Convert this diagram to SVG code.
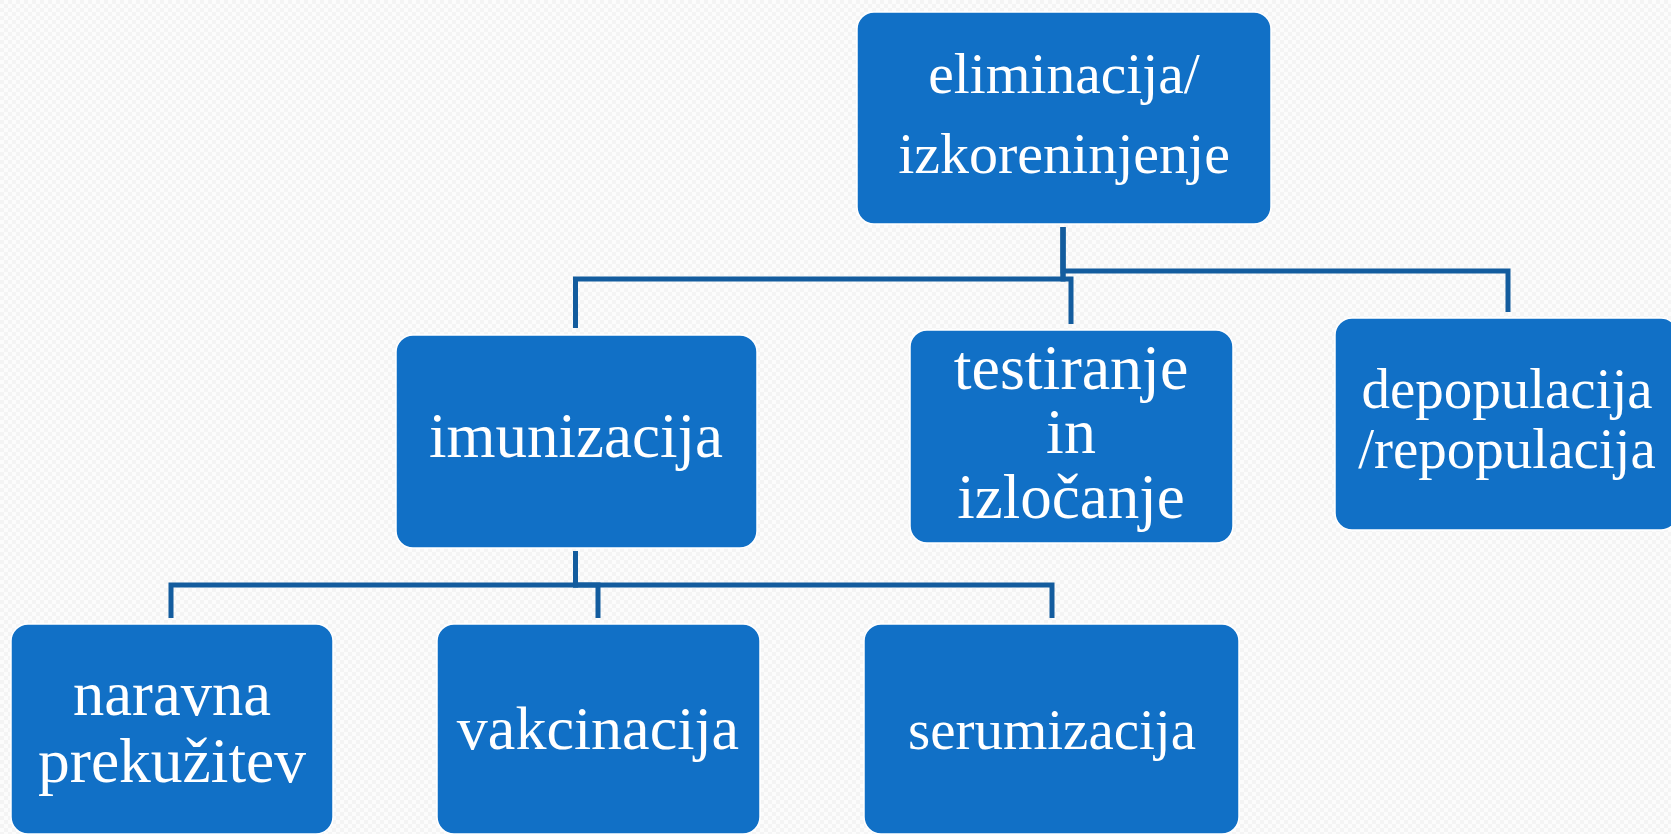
<svg xmlns="http://www.w3.org/2000/svg" width="1671" height="834" viewBox="0 0 1671 834">
<defs>
<pattern id="bg" width="8" height="8" patternUnits="userSpaceOnUse">
<rect width="8" height="8" fill="#fcfcfc"/>
<rect x="0" y="0" width="4" height="4" fill="#f4f4f4"/>
<rect x="4" y="4" width="4" height="4" fill="#f4f4f4"/>
</pattern>
<style>
.box{fill:#1170C6;stroke:#ffffff;stroke-width:1.5}
.t{font-family:"Liberation Serif","DejaVu Serif",serif;fill:#ffffff;text-anchor:middle}
.c{fill:none;stroke:#135C9E;stroke-width:5;stroke-linejoin:miter}
</style>
</defs>
<rect width="1671" height="834" fill="url(#bg)"/>
<g id="connectors">
<path class="c" d="M1063,227 V279 H575.5 V328"/>
<path class="c" d="M1063,227 V271 H1508 V312"/>
<path class="c" d="M1063,227 V279 H1071 V324"/>
<path class="c" d="M575.5,551 V585 H171 V618"/>
<path class="c" d="M575.5,551 V585 H598 V618"/>
<path class="c" d="M575.5,551 V585 H1052 V618"/>
</g>
<g id="n-eliminacija">
<rect class="box" x="857" y="12" width="414" height="212" rx="17"/>
<text class="t" x="1064" y="93" font-size="57.5">eliminacija/</text>
<text class="t" x="1064" y="173" font-size="58">izkoreninjenje</text>
</g>
<g id="n-imunizacija">
<rect class="box" x="396" y="335" width="361" height="213" rx="17"/>
<text class="t" x="576" y="457" font-size="63">imunizacija</text>
</g>
<g id="n-testiranje">
<rect class="box" x="910" y="330" width="323" height="213" rx="17"/>
<text class="t" x="1071" y="389" font-size="64">testiranje</text>
<text class="t" x="1071" y="453" font-size="64">in</text>
<text class="t" x="1071" y="518" font-size="63">izločanje</text>
</g>
<g id="n-depopulacija">
<rect class="box" x="1335" y="318" width="343" height="212" rx="17"/>
<text class="t" x="1507" y="408" font-size="57">depopulacija</text>
<text class="t" x="1507" y="468" font-size="57">/repopulacija</text>
</g>
<g id="n-naravna">
<rect class="box" x="11" y="624" width="322" height="210" rx="17"/>
<text class="t" x="172" y="715" font-size="62.5">naravna</text>
<text class="t" x="172" y="782" font-size="63.5">prekužitev</text>
</g>
<g id="n-vakcinacija">
<rect class="box" x="437" y="624" width="323" height="210" rx="17"/>
<text class="t" x="598" y="749" font-size="62">vakcinacija</text>
</g>
<g id="n-serumizacija">
<rect class="box" x="864" y="624" width="375" height="210" rx="17"/>
<text class="t" x="1052" y="749" font-size="57">serumizacija</text>
</g>
</svg>
